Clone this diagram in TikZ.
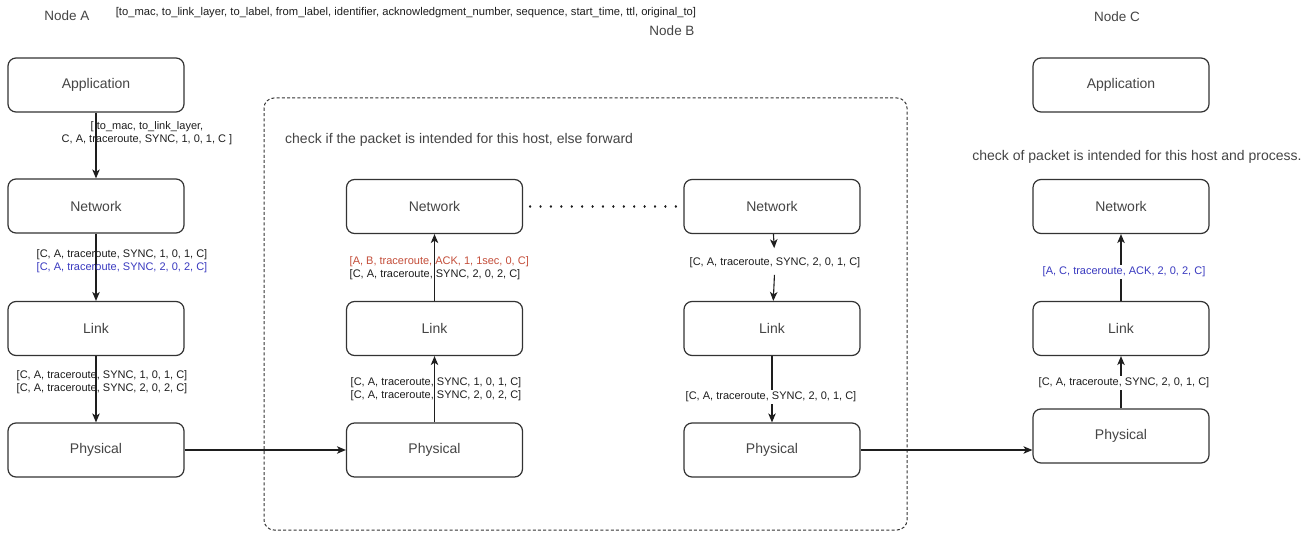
\documentclass[tikz,border=0pt]{standalone}
\usepackage{fontspec}
\setmainfont{Liberation Sans}
\usetikzlibrary{arrows.meta}
\definecolor{boxline}{HTML}{333333}
\definecolor{boxtext}{HTML}{454545}
\definecolor{lbltext}{HTML}{1E1E1E}
\definecolor{pktred}{RGB}{196,78,58}
\definecolor{pktblue}{RGB}{58,58,192}
\tikzset{
  layerbox/.style={draw=boxline, line width=1.2pt, rounded corners=8pt,
    minimum width=176pt, minimum height=54pt, text=boxtext,
    font=\fontsize{14}{16}\selectfont},
  pkt/.style={text=lbltext, font=\fontsize{11}{13}\selectfont, inner sep=1.5pt},
  pktw/.style={pkt, fill=white},
  title/.style={text=boxtext, font=\fontsize{13.5}{15}\selectfont, inner sep=0pt},
  note/.style={text=boxtext, font=\fontsize{14}{16}\selectfont, inner sep=0pt},
  arr/.style={draw=lbltext, line width=1.1pt, -{Stealth[length=9pt,width=7.5pt,inset=2.5pt]}},
}
\begin{document}
\begin{tikzpicture}[x=1pt,y=-1pt]
\useasboundingbox[fill=white] (0,0) rectangle (1301,540);

% dashed frame of node B
\draw[draw=boxline, line width=1pt, dash pattern=on 3pt off 2.2pt, rounded corners=10pt]
  (264,98) rectangle (907,530);

% titles
\node[title] (tA) at (67,16) {Node A};
\node[pkt, inner sep=0pt, font=\fontsize{11.2}{13}\selectfont] (hdr) at (406,13) {[to\_mac, to\_link\_layer, to\_label, from\_label, identifier, acknowledgment\_number, sequence, start\_time, ttl, original\_to]};
\node[title] (tB) at (672,31) {Node B};
\node[title] (tC) at (1117,17) {Node C};
\node[note, anchor=west] (noteB) at (285,140) {check if the packet is intended for this host, else forward};
\node[note] (noteC) at (1137,157) {check of packet is intended for this host and process.};

% Node A stack
\node[layerbox] (appA)  at (96,85)    {Application};
\node[layerbox] (netA)  at (96,206)   {Network};
\node[layerbox] (linkA) at (96,328.5) {Link};
\node[layerbox] (physA) at (96,450)   {Physical};

% Node B stacks
\node[layerbox] (netB1)  at (434.5,206.5) {Network};
\node[layerbox] (linkB1) at (434.5,328.5) {Link};
\node[layerbox] (physB1) at (434.5,450)   {Physical};
\node[layerbox] (netB2)  at (772,206.5)   {Network};
\node[layerbox] (linkB2) at (772,328.5)   {Link};
\node[layerbox] (physB2) at (772,450)     {Physical};

% Node C stack
\node[layerbox] (appC)  at (1121,85)    {Application};
\node[layerbox] (netC)  at (1121,206.5) {Network};
\node[layerbox] (linkC) at (1121,328.5) {Link};
\node[layerbox] (physC) at (1121,436)   {Physical};

% Node A connectors
\draw[arr] (appA) -- (netA);
\draw[arr] (netA) -- (linkA);
\draw[arr] (linkA) -- (physA);
\node[pkt, align=center] (lA1) at (147,133)
  {[ to\_mac, to\_link\_layer,\\{}C, A, traceroute, SYNC, 1, 0, 1, C ]};
\node[pkt, align=center] (lA2) at (122,261.5)
  {[C, A, traceroute, SYNC, 1, 0, 1, C]\\{}\textcolor{pktblue}{[C, A, traceroute, SYNC, 2, 0, 2, C]}};
\node[pkt, align=center] (lA3) at (102,382.5)
  {[C, A, traceroute, SYNC, 1, 0, 1, C]\\{}[C, A, traceroute, SYNC, 2, 0, 2, C]};

% A -> B
\draw[arr] (physA) -- (physB1);

% Node B left stack (up)
\draw[arr] (physB1) -- (linkB1);
\draw[arr] (linkB1) -- (netB1);
\node[pkt, align=center] (lB1) at (436,389.5)
  {[C, A, traceroute, SYNC, 1, 0, 1, C]\\{}[C, A, traceroute, SYNC, 2, 0, 2, C]};
\node[pkt, align=left, anchor=west] (lB2) at (348,268.5)
  {\textcolor{pktred}{[A, B, traceroute, ACK, 1, 1sec, 0, C]}\\{}[C, A, traceroute, SYNC, 2, 0, 2, C]};

% dotted link between the two network layers of B
\draw[draw=lbltext, line width=2.4pt, line cap=round, dash pattern=on 0.01pt off 10.4pt]
  ([xshift=7pt]netB1.east) -- ([xshift=-3pt]netB2.west);

% Node B right stack (down)
\node[pkt] (lB3) at (775,263) {[C, A, traceroute, SYNC, 2, 0, 1, C]};
\draw[arr, shorten >=8pt] (netB2) -- (lB3);
\draw[arr, shorten <=5pt] (lB3) -- (linkB2);
\draw[arr] (linkB2) -- (physB2);
\node[pktw] (lB4) at (771,397) {[C, A, traceroute, SYNC, 2, 0, 1, C]};

% B -> C
\draw[arr] (physB2.east) -- (physB2.east -| physC.west);

% Node C stack (up)
\draw[arr] (physC) -- (linkC);
\draw[arr] (linkC) -- (netC);
\node[pktw] (lC1) at (1124,383) {[C, A, traceroute, SYNC, 2, 0, 1, C]};
\node[pktw, text=pktblue] (lC2) at (1124,272) {[A, C, traceroute, ACK, 2, 0, 2, C]};
\end{tikzpicture}
\end{document}
